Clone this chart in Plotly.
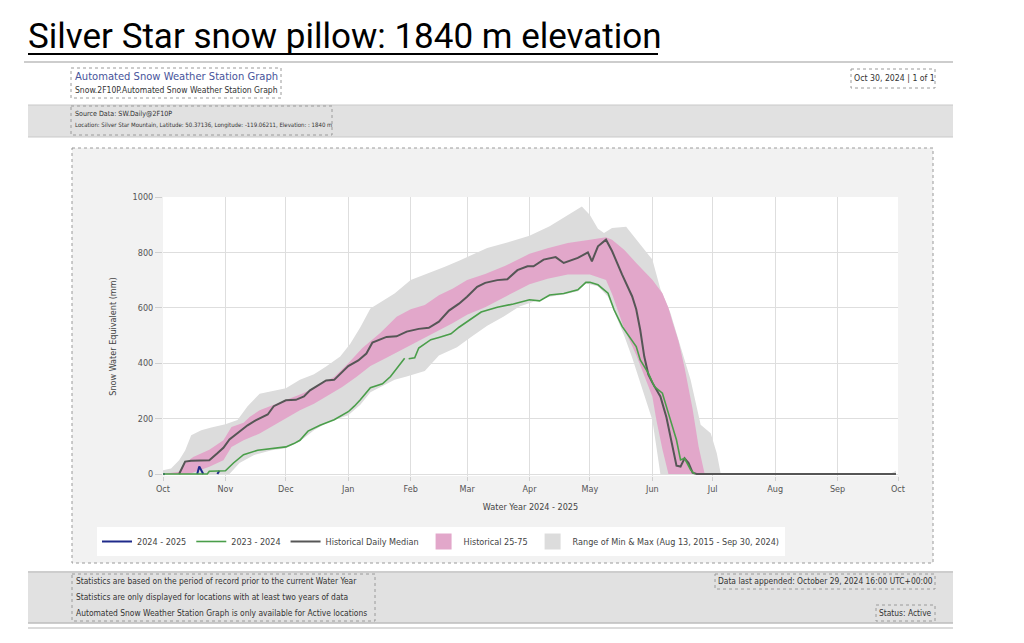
import plotly.graph_objects as go

# ---------------- data ----------------
max_dates = ["2024-10-01","2024-10-05","2024-10-09","2024-10-12","2024-10-15","2024-10-20","2024-10-25",
             "2024-11-01","2024-11-07","2024-11-12","2024-11-18","2024-11-25","2024-12-01","2024-12-08",
             "2024-12-15","2024-12-21","2024-12-28","2025-01-02","2025-01-07","2025-01-12","2025-01-18",
             "2025-01-24","2025-02-01","2025-02-10","2025-02-18","2025-02-25","2025-03-03","2025-03-11",
             "2025-03-23","2025-04-01","2025-04-11","2025-04-21","2025-04-27","2025-05-01","2025-05-05",
             "2025-05-08","2025-05-12","2025-05-19","2025-05-24","2025-06-01","2025-06-05","2025-06-10",
             "2025-06-15","2025-06-20","2025-06-25","2025-06-30","2025-07-03","2025-07-05","2025-09-27",
             "2025-09-30"]
max_swe = [14, 20, 50, 85, 140, 158, 168,
           180, 195, 245, 290, 302, 310, 340,
           360, 388, 424, 470, 530, 598, 625,
           652, 700, 725, 748, 770, 790, 816,
           840, 860, 894, 940, 966, 935, 885,
           870, 888, 893, 846, 774, 668, 581,
           460, 340, 178, 147, 75, 0, 0,
           12]

min_dates = ["2024-10-01","2024-11-03","2024-11-08","2024-11-15","2024-11-24","2024-12-01","2024-12-08",
             "2024-12-15","2024-12-22","2025-01-01","2025-01-07","2025-01-12","2025-01-18","2025-01-24",
             "2025-01-30","2025-02-08","2025-02-15","2025-02-24","2025-03-03","2025-03-11","2025-03-19",
             "2025-03-27","2025-04-03","2025-04-11","2025-04-18","2025-04-25","2025-04-29","2025-05-05",
             "2025-05-10","2025-05-14","2025-05-18","2025-05-22","2025-05-25","2025-05-28","2025-06-01",
             "2025-06-03","2025-06-05","2025-09-30"]
min_swe = [0, 0, 40, 68, 86, 93, 118,
           158, 188, 212, 250, 295, 318, 340,
           352, 372, 428, 458, 495, 535, 568,
           605, 622, 640, 648, 660, 688, 678,
           640, 570, 500, 420, 350, 285, 195,
           99, 0, 0]

p75_dates = ["2024-10-01","2024-10-09","2024-10-12","2024-10-16","2024-10-24","2024-10-31","2024-11-04",
             "2024-11-10","2024-11-13","2024-11-18","2024-11-25","2024-12-01","2024-12-09","2024-12-16",
             "2024-12-25","2025-01-01","2025-01-08","2025-01-17","2025-01-25","2025-02-01","2025-02-08",
             "2025-02-15","2025-02-22","2025-03-01","2025-03-10","2025-03-20","2025-04-01","2025-04-10",
             "2025-04-20","2025-05-01","2025-05-09","2025-05-12","2025-05-18","2025-05-24","2025-06-01",
             "2025-06-06","2025-06-09","2025-06-11","2025-06-14","2025-06-17","2025-06-21","2025-06-24",
             "2025-06-27","2025-09-30"]
p75_swe = [0, 8, 40, 62, 88, 122, 170,
           185, 206, 230, 250, 268, 290, 315,
           350, 400, 455, 510, 568, 595, 610,
           645, 670, 700, 722, 752, 795, 815,
           834, 846, 855, 846, 810, 762, 701,
           653, 600, 550, 480, 385, 235, 99,
           0, 0]

p25_dates = ["2024-10-01","2024-10-14","2024-10-24","2024-10-31","2024-11-04","2024-11-10","2024-11-18",
             "2024-11-25","2024-12-01","2024-12-08","2024-12-15","2024-12-22","2024-12-29","2025-01-05",
             "2025-01-12","2025-01-20","2025-01-28","2025-02-05","2025-02-15","2025-02-22","2025-03-01",
             "2025-03-10","2025-03-20","2025-04-01","2025-04-10","2025-04-20","2025-05-01","2025-05-09",
             "2025-05-12","2025-05-18","2025-05-24","2025-05-28","2025-06-01","2025-06-03","2025-06-06",
             "2025-06-09","2025-09-30"]
p25_swe = [0, 0, 26, 50, 98, 122, 146,
           176, 200, 230, 254, 284, 314, 350,
           390, 420, 450, 480, 520, 545, 575,
           602, 640, 685, 705, 720, 720, 700,
           650, 525, 430, 352, 280, 195, 90,
           0, 0]

median_dates = ["2024-10-09","2024-10-12","2024-10-15","2024-10-24","2024-10-28","2024-10-31","2024-11-03",
                "2024-11-06","2024-11-09","2024-11-12","2024-11-16","2024-11-22","2024-11-25","2024-12-01",
                "2024-12-06","2024-12-10","2024-12-13","2024-12-21","2024-12-25","2024-12-29","2025-01-01",
                "2025-01-06","2025-01-10","2025-01-13","2025-01-20","2025-01-25","2025-01-30","2025-02-05",
                "2025-02-10","2025-02-15","2025-02-20","2025-02-25","2025-03-01","2025-03-06","2025-03-10",
                "2025-03-16","2025-03-21","2025-03-26","2025-03-31","2025-04-03","2025-04-08","2025-04-14",
                "2025-04-18","2025-04-25","2025-04-30","2025-05-02","2025-05-05","2025-05-09","2025-05-12",
                "2025-05-17","2025-05-22","2025-05-24","2025-05-26","2025-05-28","2025-05-30","2025-06-01",
                "2025-06-05","2025-06-08","2025-06-11","2025-06-13","2025-06-15","2025-06-17","2025-06-19",
                "2025-06-21","2025-06-23","2025-09-30"]
median_swe = [0, 45, 48, 50, 75, 95, 125,
              142, 158, 176, 194, 215, 245, 266,
              268, 280, 302, 338, 340, 370, 390,
              410, 435, 475, 495, 497, 514, 524,
              528, 550, 590, 615, 640, 676, 690,
              700, 703, 736, 750, 750, 774, 783,
              762, 780, 800, 768, 822, 846, 805,
              720, 641, 595, 520, 424, 360, 330,
              280, 205, 100, 30, 27, 57, 40,
              5, 0, 0]

wy2324_dates = ["2024-10-01","2024-10-23","2024-10-24","2024-11-01","2024-11-05","2024-11-10","2024-11-17",
                "2024-11-24","2024-12-01","2024-12-05","2024-12-08","2024-12-12","2024-12-18","2024-12-25",
                "2025-01-01","2025-01-04","2025-01-07","2025-01-12","2025-01-18","2025-01-22","2025-01-26",
                "2025-01-29","2025-01-30","2025-01-31","2025-02-03","2025-02-05","2025-02-11","2025-02-15",
                "2025-02-21","2025-02-25","2025-03-01","2025-03-08","2025-03-16","2025-03-24","2025-04-01",
                "2025-04-06","2025-04-11","2025-04-18","2025-04-25","2025-04-29","2025-05-01","2025-05-05",
                "2025-05-10","2025-05-13","2025-05-17","2025-05-20","2025-05-24","2025-05-26","2025-05-30",
                "2025-06-02","2025-06-06","2025-06-09","2025-06-13","2025-06-15","2025-06-17","2025-06-20",
                "2025-06-22"]
wy2324_swe = [0, 0, 10, 12, 40, 70, 86,
              93, 98, 110, 122, 155, 176, 196,
              225, 245, 268, 312, 326, 352, 390,
              418, None, 416, 420, 455, 485, 493,
              506, 530, 551, 585, 602, 614, 629,
              625, 646, 652, 665, 692, 692, 683,
              653, 593, 533, 502, 460, 412, 364,
              316, 292, 219, 123, 51, 57, 15,
              0]

wy2425_dates = ["2024-10-01","2024-10-02","2024-10-03","2024-10-18","2024-10-19","2024-10-20","2024-10-21",
                "2024-10-22","2024-10-28","2024-10-29"]
wy2425_swe = [0, 0, None, 0, 27, 14, 0,
              None, 0, 12]

month_ticks = ["2024-10-01","2024-11-01","2024-12-01","2025-01-01","2025-02-01","2025-03-01","2025-04-01",
               "2025-05-01","2025-06-01","2025-07-01","2025-08-01","2025-09-01","2025-10-01"]
month_labels = ["Oct","Nov","Dec","Jan","Feb","Mar","Apr","May","Jun","Jul","Aug","Sep","Oct"]
swe_ticks = [0, 200, 400, 600, 800, 1000]

# ---------------- styling / layout helpers ----------------
FONT = "Liberation Sans Narrow, DejaVu Sans Condensed, Arial Narrow, sans-serif"
TITLE_FONT = "Roboto, Liberation Sans, sans-serif"
C_BLUE = "#1f2a8a"
C_GREEN = "#4a9e4a"
C_MED = "#565656"
C_PINK = "#e2a7ca"
C_GRAY = "#dcdcdc"

PL, PR, PT, PB = 163, 898, 197, 476
YMIN, YMAX = -7, 1000


def X(px):
    return (px - PL) / (PR - PL)


def Y(py):
    return (PB - py) / (PB - PT)


fig = go.Figure()

# bands
fig.add_trace(go.Scatter(x=min_dates, y=min_swe, mode="lines", line=dict(width=0, color=C_GRAY),
                         showlegend=False, hoverinfo="skip"))
fig.add_trace(go.Scatter(x=max_dates, y=max_swe, mode="lines", line=dict(width=0, color=C_GRAY),
                         fill="tonexty", fillcolor=C_GRAY, showlegend=False, hoverinfo="skip"))
fig.add_trace(go.Scatter(x=p25_dates, y=p25_swe, mode="lines", line=dict(width=0, color=C_PINK),
                         showlegend=False, hoverinfo="skip"))
fig.add_trace(go.Scatter(x=p75_dates, y=p75_swe, mode="lines", line=dict(width=0, color=C_PINK),
                         fill="tonexty", fillcolor=C_PINK, showlegend=False, hoverinfo="skip"))
# lines
fig.add_trace(go.Scatter(x=median_dates, y=median_swe, mode="lines", name="Historical Daily Median",
                         line=dict(color=C_MED, width=2), legendrank=3))
fig.add_trace(go.Scatter(x=wy2425_dates, y=wy2425_swe, mode="lines", name="2024 - 2025",
                         line=dict(color=C_BLUE, width=2), legendrank=1))
fig.add_trace(go.Scatter(x=wy2324_dates, y=wy2324_swe, mode="lines", name="2023 - 2024",
                         line=dict(color=C_GREEN, width=1.6), legendrank=2))
# legend swatches for the bands
fig.add_trace(go.Scatter(x=[None], y=[None], mode="markers", name="Historical 25-75",
                         marker=dict(symbol="square", size=16, color=C_PINK), legendrank=4))
fig.add_trace(go.Scatter(x=[None], y=[None], mode="markers",
                         name="Range of Min & Max (Aug 13, 2015 - Sep 30, 2024)",
                         marker=dict(symbol="square", size=16, color=C_GRAY), legendrank=5))

dot = dict(color="#9a9a9a", width=1, dash="dot")


def rect(x0, y0, x1, y1, fill=None, line=None):
    return dict(type="rect", xref="paper", yref="paper", layer="below",
                x0=X(x0), x1=X(x1), y0=Y(y0), y1=Y(y1),
                fillcolor=fill if fill else "rgba(0,0,0,0)",
                line=line if line else dict(width=0))


def hline(x0, x1, y, color, width=1):
    return dict(type="line", xref="paper", yref="paper", layer="below",
                x0=X(x0), x1=X(x1), y0=Y(y), y1=Y(y), line=dict(color=color, width=width))


shapes = [
    hline(24, 953, 62, "#bdbdbd", 1.5),
    rect(28, 105, 953, 137, fill="#e1e1e1"),
    hline(28, 953, 105, "#c9c9c9"),
    hline(28, 953, 137, "#c9c9c9"),
    rect(72, 148, 933, 563, fill="#f2f2f2", line=dot),
    rect(PL, PT, PR, PB, fill="#ffffff"),
    rect(28, 573, 953, 623, fill="#e1e1e1"),
    hline(28, 953, 572, "#bdbdbd", 1.5),
    hline(28, 953, 623, "#bdbdbd", 1.5),
    hline(28, 953, 628, "#cfcfcf", 1.5),
    rect(71, 68, 281, 98, line=dot),
    rect(71, 106, 332, 135, line=dot),
    rect(851, 69, 935, 88, line=dot),
    rect(72, 574, 375, 621, line=dot),
    rect(715, 574, 935, 589, line=dot),
    rect(876, 605, 935, 621, line=dot),
    hline(28, 658, 54, "#000000", 2),
]


def txt(s, x, y, size, color="#333333", anchor="left", family=FONT):
    return dict(text=s, xref="paper", yref="paper", x=X(x), y=Y(y), xanchor=anchor, yanchor="middle",
                showarrow=False, font=dict(family=family, size=size, color=color), borderpad=0)


annotations = [
    txt("Silver Star snow pillow: 1840 m elevation", 27, 37, 35, color="#000000", family=TITLE_FONT),
    txt("Automated Snow Weather Station Graph", 74, 76, 11.1, color="#47549b"),
    txt("Snow.2F10P.Automated Snow Weather Station Graph", 74, 90, 8.5),
    txt("Oct 30, 2024 | 1 of 1", 853, 78, 8.7),
    txt("Source Data: SW.Daily@2F10P", 74, 113, 7.1),
    txt("Location: Silver Star Mountain, Latitude: 50.37136, Longitude: -119.06211, Elevation: : 1840 m",
        74, 125, 6.0),
    txt("Statistics are based on the period of record prior to the current Water Year", 75, 581, 8.4),
    txt("Statistics are only displayed for locations with at least two years of data", 75, 597, 8.4),
    txt("Automated Snow Weather Station Graph is only available for Active locations", 75, 613, 8.4),
    txt("Data last appended: October 29, 2024 16:00 UTC+00:00", 717, 581, 8.4),
    txt("Status: Active", 933, 613, 8.4, anchor="right"),
]

fig.update_layout(
    width=1024, height=643, autosize=False,
    margin=dict(l=PL, r=1024 - PR, t=PT, b=643 - PB, pad=0),
    paper_bgcolor="#ffffff", plot_bgcolor="#ffffff",
    font=dict(family=FONT, color="#444444"),
    shapes=shapes, annotations=annotations,
    showlegend=True,
    legend=dict(orientation="h", x=X(97), y=Y(527), xanchor="left", yanchor="top",
                bgcolor="#ffffff", font=dict(family=FONT, size=9, color="#444444"),
                traceorder="normal", itemwidth=30, tracegroupgap=0),
    xaxis=dict(type="date", range=["2024-10-01", "2025-10-01"], tickmode="array",
               tickvals=month_ticks, ticktext=month_labels, showgrid=True, gridcolor="#dedede",
               gridwidth=1, zeroline=False, showline=False, ticks="outside", ticklen=4,
               tickcolor="#cfcfcf", tickfont=dict(family=FONT, size=9, color="#555555"),
               title=dict(text="Water Year 2024 - 2025", font=dict(family=FONT, size=9, color="#444444"),
                          standoff=10)),
    yaxis=dict(range=[YMIN, YMAX], tickmode="array", tickvals=swe_ticks, showgrid=True,
               gridcolor="#dedede", gridwidth=1, zeroline=False, showline=False, ticks="outside",
               ticklen=7, tickcolor="#cfcfcf", tickfont=dict(family=FONT, size=9, color="#555555"),
               title=dict(text="Snow Water Equivalent (mm)", font=dict(family=FONT, size=9, color="#444444"),
                          standoff=14)),
)

fig.write_html("out.html")
